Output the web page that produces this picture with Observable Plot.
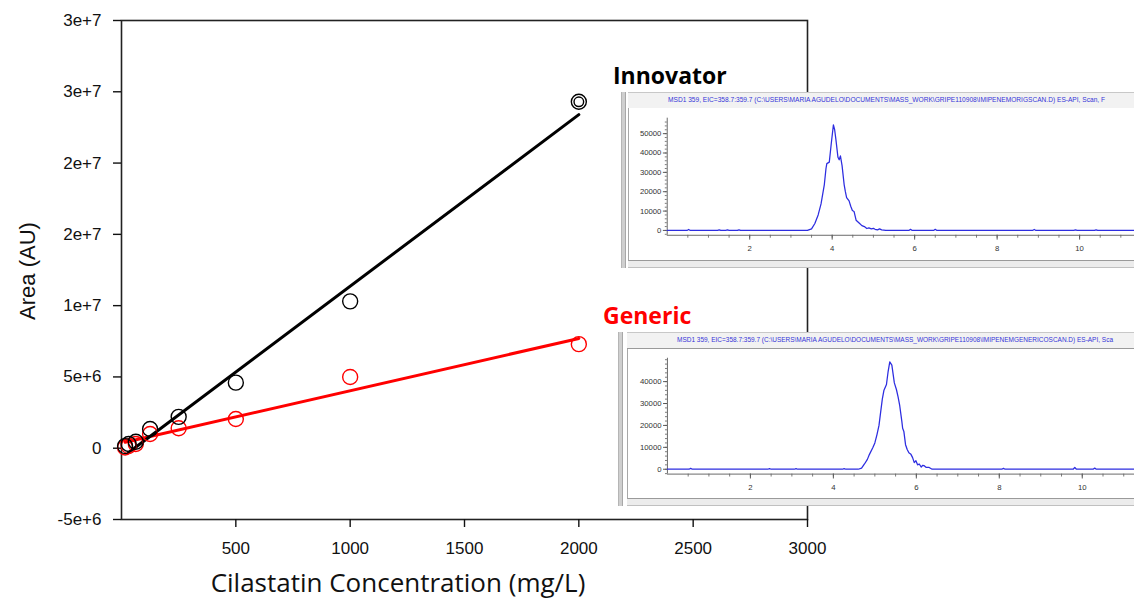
<!DOCTYPE html>
<html><head><meta charset="utf-8">
<script src="https://cdn.jsdelivr.net/npm/d3@7"></script>
<script src="https://cdn.jsdelivr.net/npm/@observablehq/plot@0.6"></script>
<style>
html,body{margin:0;padding:0;background:#fff;width:1134px;height:599px;overflow:hidden;}
#root{position:relative;width:1134px;height:599px;overflow:hidden;font-family:"Liberation Sans",Arial,sans-serif;}
.abs{position:absolute;white-space:nowrap;}
.inset{position:absolute;overflow:hidden;background:#fff;}
.lbar{position:absolute;left:0;top:0;bottom:0;width:3px;background:#cfcfcf;border-left:1px solid #b5b5b5;border-right:1px solid #a8a8a8;}
.tbar{position:absolute;left:7px;right:0;top:0;height:15px;background:#f2f2f2;border-top:1px solid #c8c8c8;border-bottom:1px solid #9a9a9a;}
.panel{position:absolute;left:7px;right:0;background:#fff;border-left:1px solid #a8a8a8;border-bottom:1px solid #9a9a9a;}
.bstrip{position:absolute;left:7px;right:0;background:#ececec;border-bottom:1px solid #c0c0c0;}
.ttl{position:absolute;font-family:"Liberation Sans",Arial,sans-serif;font-size:8px;color:#3434d8;transform-origin:0 50%;white-space:nowrap;}
</style></head><body><div id="root"></div>
<script>
// ---------- calibration data ----------
const concentration = [15.625, 31.25, 62.5, 125, 250, 500, 1000, 2000];
const innovatorArea = [0.15e6, 0.3e6, 0.45e6, 1.35e6, 2.2e6, 4.6e6, 10.3e6, 24.3e6];
const innovatorRepeatX = [2000];
const innovatorRepeatArea = [24.3e6];
const genericArea = [0.05e6, 0.15e6, 0.3e6, 1.0e6, 1.4e6, 2.05e6, 5.0e6, 7.3e6];
const innovatorFitX = [31.25, 2000];
const innovatorFit = [-0.3e6, 23.4e6];
const genericFitX = [15.625, 2000];
const genericFit = [0.42e6, 7.7e6];
const xTicks = [500, 1000, 1500, 2000, 2500, 3000];
const xTickLabels = ["500", "1000", "1500", "2000", "2500", "3000"];
const yTicks = [-5e6, 0, 5e6, 1e7, 1.5e7, 2e7, 2.5e7, 3e7];
const yTickLabels = ["-5e+6", "0", "5e+6", "1e+7", "2e+7", "2e+7", "3e+7", "3e+7"];

// ---------- chromatograms (time min, intensity) ----------
const innovTime = [0, 0.48, 0.52, 0.56, 1.22, 1.26, 1.3, 1.42, 1.46, 1.5, 1.7, 1.74, 1.78, 3.4, 3.5, 3.58, 3.66, 3.73, 3.81, 3.85, 3.87, 3.93, 3.98, 4.03, 4.06, 4.09, 4.14, 4.17, 4.2, 4.24, 4.29, 4.32, 4.35, 4.41, 4.45, 4.49, 4.53, 4.58, 4.62, 4.66, 4.72, 4.78, 4.84, 4.89, 4.95, 5.0, 5.04, 5.1, 5.15, 5.2, 5.3, 5.86, 5.9, 5.94, 6.46, 6.5, 6.54, 8.86, 8.9, 8.94, 9.86, 9.9, 9.94, 10.36, 10.4, 10.44, 11.5];
const innovSignal = [0, 0, 500, 0, 0, 300, 0, 0, 300, 0, 0, 300, 0, 0, 800, 3600, 8000, 13700, 23700, 32000, 34500, 35300, 45300, 54500, 52000, 47000, 37800, 36500, 38500, 33500, 23700, 20000, 17000, 15300, 12500, 10300, 9800, 5300, 4500, 3700, 2500, 2000, 1000, 1300, 800, 1100, 600, 300, 800, 300, 0, 0, 600, 0, 0, 600, 0, 0, 500, 0, 0, 300, 0, 0, 300, 0, 0];
const genTime = [0, 0.52, 0.56, 0.6, 2.42, 2.46, 2.5, 3.06, 3.1, 3.14, 4.22, 4.26, 4.3, 4.6, 4.68, 4.75, 4.82, 4.87, 4.95, 5.0, 5.05, 5.1, 5.13, 5.18, 5.22, 5.28, 5.32, 5.36, 5.41, 5.47, 5.52, 5.56, 5.6, 5.65, 5.67, 5.7, 5.74, 5.78, 5.82, 5.87, 5.91, 5.95, 5.99, 6.03, 6.07, 6.12, 6.15, 6.19, 6.24, 6.3, 6.38, 8.06, 8.1, 8.14, 9.78, 9.82, 9.86, 10.26, 10.3, 10.34, 11.5];
const genSignal = [0, 0, 400, 0, 0, 300, 0, 0, 300, 0, 0, 300, 0, 0, 500, 2400, 4500, 6800, 9800, 12000, 15700, 20000, 24600, 32000, 36100, 38700, 44600, 49000, 47500, 39400, 36400, 33000, 29000, 22000, 18700, 17200, 11200, 9000, 7500, 6800, 5300, 3000, 3900, 2000, 2400, 1000, 1800, 1600, 800, 900, 0, 0, 400, 0, 0, 800, 0, 0, 500, 0, 0];
const innovYTicks = [0, 10000, 20000, 30000, 40000, 50000];
const genYTicks = [0, 10000, 20000, 30000, 40000];
const chromXTicks = [2, 4, 6, 8, 10];
const innovTitle = "MSD1 359, EIC=358.7:359.7 (C:\\USERS\\MARIA AGUDELO\\DOCUMENTS\\MASS_WORK\\GRIPE110908\\IMIPENEMORIGSCAN.D)  ES-API, Scan, F";
const genTitle = "MSD1 359, EIC=358.7:359.7 (C:\\USERS\\MARIA AGUDELO\\DOCUMENTS\\MASS_WORK\\GRIPE110908\\IMIPENEMGENERICOSCAN.D)  ES-API, Sca";

const root = document.getElementById("root");

const innovPts = concentration.map((c, i) => ({c, a: innovatorArea[i]}));
const genPts = concentration.map((c, i) => ({c, a: genericArea[i]}));
const innovRep = innovatorRepeatX.map((c, i) => ({c, a: innovatorRepeatArea[i]}));
const innovFitPts = innovatorFitX.map((c, i) => ({c, a: innovatorFit[i]}));
const genFitPts = genericFitX.map((c, i) => ({c, a: genericFit[i]}));

const main = Plot.plot({
  width: 1134, height: 599,
  marginLeft: 121, marginRight: 327, marginTop: 20, marginBottom: 80,
  style: {fontFamily: "'Liberation Sans', Arial, sans-serif", fontSize: "17px", color: "#111", background: "transparent"},
  x: {domain: [0, 3000]},
  y: {domain: [-5e6, 3e7]},
  marks: [
    Plot.frame({stroke: "#222", strokeWidth: 1.6}),
    Plot.axisX({ticks: xTicks, tickFormat: d => xTickLabels[xTicks.indexOf(d)], tickSize: 8, tickPadding: 14, fontSize: 17, label: null, strokeWidth: 1.4}),
    Plot.axisY({ticks: yTicks, tickFormat: d => yTickLabels[yTicks.indexOf(d)], tickSize: 8, tickPadding: 12, fontSize: 17, label: null, strokeWidth: 1.4}),
    Plot.line(genFitPts, {x: "c", y: "a", stroke: "#ff0000", strokeWidth: 3}),
    Plot.line(innovFitPts, {x: "c", y: "a", stroke: "#000", strokeWidth: 3}),
    Plot.dot(genPts, {x: "c", y: "a", r: 7.5, stroke: "#ff0000", strokeWidth: 1.4}),
    Plot.dot(innovPts, {x: "c", y: "a", r: 7.5, stroke: "#000", strokeWidth: 1.4}),
    Plot.dot(innovRep, {x: "c", y: "a", r: 4.8, stroke: "#000", strokeWidth: 1.4})
  ]
});
main.style.position = "absolute";
main.style.left = "0px";
main.style.top = "0px";
root.appendChild(main);

function addText(txt, css) {
  const d = document.createElement("div");
  d.className = "abs";
  d.textContent = txt;
  Object.assign(d.style, css);
  root.appendChild(d);
  return d;
}
addText("Area (AU)", {left: "28px", top: "271px", fontSize: "22px", fontFamily: "'Liberation Sans', Arial, sans-serif", transform: "translate(-50%,-50%) rotate(-90deg)", color: "#111"});
addText("Cilastatin Concentration (mg/L)", {left: "398px", top: "582px", fontSize: "26px", fontFamily: "'Open Sans', sans-serif", transform: "translate(-50%,-50%)", color: "#111"});

function chrom(time, signal, yTicksArr, yDomain, h, mt, mb) {
  const pts = time.map((t, i) => ({t, s: signal[i]}));
  const minorY = d3.range(Math.ceil(yDomain[0] / 2000) * 2000, yDomain[1], 2000);
  const minorX = d3.range(0.5, 11.5, 0.5);
  return Plot.plot({
    width: 530, height: h, marginLeft: 40, marginRight: 0, marginTop: mt, marginBottom: mb,
    style: {fontFamily: "'Liberation Sans', Arial, sans-serif", fontSize: "8px", color: "#333", background: "transparent"},
    x: {domain: [0, 11.5]},
    y: {domain: yDomain},
    marks: [
      Plot.axisY({ticks: minorY, tickSize: 2, tickFormat: () => "", label: null, stroke: "#777"}),
      Plot.axisY({ticks: yTicksArr, tickSize: 4, tickPadding: 2, fontSize: 8, label: null, tickFormat: d => String(d), stroke: "#555"}),
      Plot.axisX({ticks: minorX, tickSize: 3, tickFormat: () => "", label: null, stroke: "#777"}),
      Plot.axisX({ticks: chromXTicks, tickSize: 5, tickPadding: 6, fontSize: 8, label: null, stroke: "#555"}),
      Plot.ruleX([0], {stroke: "#666"}),
      Plot.ruleY([yDomain[0]], {stroke: "#666"}),
      Plot.line(pts, {x: "t", y: "s", stroke: "#2d2de0", strokeWidth: 1.3})
    ]
  });
}

function inset(cfg) {
  const box = document.createElement("div");
  box.className = "inset";
  Object.assign(box.style, {left: cfg.left + "px", top: cfg.top + "px", width: (1134 - cfg.left) + "px", height: cfg.height + "px"});
  const lbar = document.createElement("div"); lbar.className = "lbar"; box.appendChild(lbar);
  const tbar = document.createElement("div"); tbar.className = "tbar"; tbar.style.left = cfg.barLeft + "px"; box.appendChild(tbar);
  const panel = document.createElement("div"); panel.className = "panel";
  Object.assign(panel.style, {left: cfg.barLeft + "px", top: cfg.panelTop + "px", height: cfg.panelH + "px"});
  box.appendChild(panel);
  const bs = document.createElement("div"); bs.className = "bstrip";
  Object.assign(bs.style, {left: cfg.barLeft + "px", top: (cfg.panelTop + cfg.panelH + 1) + "px", height: (cfg.height - cfg.panelTop - cfg.panelH - 2) + "px"});
  box.appendChild(bs);
  const svg = cfg.chart;
  svg.style.position = "absolute";
  svg.style.left = (628 - cfg.left) + "px";
  svg.style.top = cfg.panelTop + "px";
  box.appendChild(svg);
  const t = document.createElement("div"); t.className = "ttl"; t.textContent = cfg.title;
  t.style.left = (cfg.titleX - cfg.left) + "px";
  t.style.top = "3px";
  box.appendChild(t);
  root.appendChild(box);
  const w = t.getBoundingClientRect().width;
  t.style.transform = "scaleX(" + (cfg.titleW / w) + ")";
}

inset({left: 621, top: 92, height: 176, barLeft: 7, panelTop: 16, panelH: 152,
  chart: chrom(innovTime, innovSignal, innovYTicks, [-2500, 58000], 152, 10, 21),
  title: innovTitle, titleX: 668, titleW: 437});
inset({left: 618, top: 332, height: 174, barLeft: 9, panelTop: 17, panelH: 149,
  chart: chrom(genTime, genSignal, genYTicks, [-2222, 50667], 149, 9, 21),
  title: genTitle, titleX: 677, titleW: 436});

addText("Innovator", {left: "613px", top: "75px", fontSize: "23px", fontWeight: "700", fontFamily: "'Open Sans', sans-serif", transform: "translateY(-50%)", color: "#000"});
addText("Generic", {left: "603px", top: "315px", fontSize: "23px", fontWeight: "700", fontFamily: "'Open Sans', sans-serif", transform: "translateY(-50%)", color: "#ff0000"});
</script></body></html>
